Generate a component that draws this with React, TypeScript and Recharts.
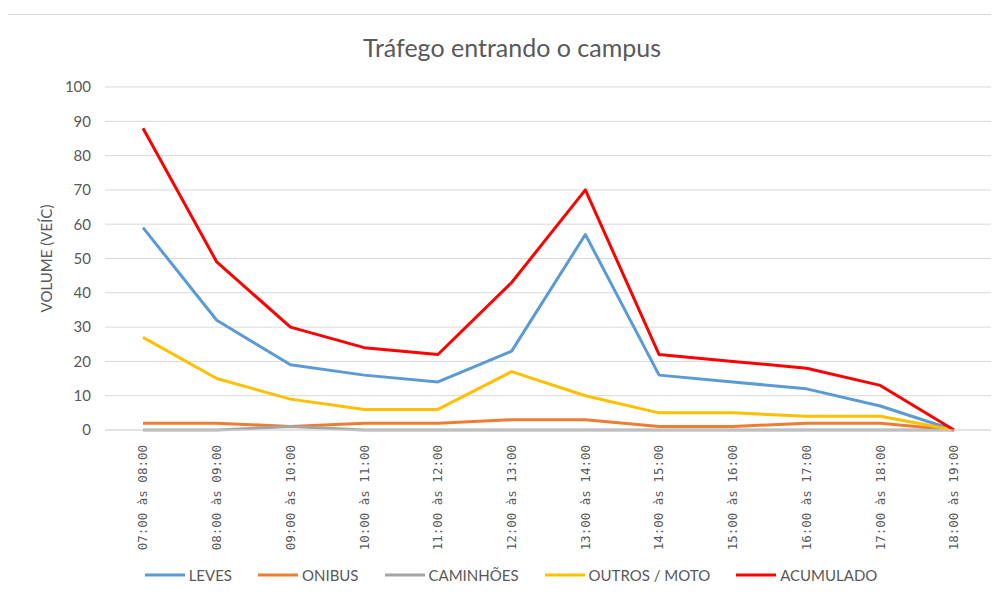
import { LineChart, Line, XAxis, YAxis, CartesianGrid, Legend } from "recharts";

const periods = [
  "07:00 às 08:00",
  "08:00 às 09:00",
  "09:00 às 10:00",
  "10:00 às 11:00",
  "11:00 às 12:00",
  "12:00 às 13:00",
  "13:00 às 14:00",
  "14:00 às 15:00",
  "15:00 às 16:00",
  "16:00 às 17:00",
  "17:00 às 18:00",
  "18:00 às 19:00",
];
const leves = [59, 32, 19, 16, 14, 23, 57, 16, 14, 12, 7, 0];
const onibus = [2, 2, 1, 2, 2, 3, 3, 1, 1, 2, 2, 0];
const caminhoes = [0, 0, 1, 0, 0, 0, 0, 0, 0, 0, 0, 0];
const outros = [27, 15, 9, 6, 6, 17, 10, 5, 5, 4, 4, 0];
const acumulado = [88, 49, 30, 24, 22, 43, 70, 22, 20, 18, 13, 0];
const yTicks = [0, 10, 20, 30, 40, 50, 60, 70, 80, 90, 100];

const data = periods.map((p, i) => ({
  periodo: p,
  leves: leves[i],
  onibus: onibus[i],
  caminhoes: caminhoes[i],
  outros: outros[i],
  acumulado: acumulado[i],
}));

const series = [
  { key: "leves", name: "LEVES", color: "#5B9BD5" },
  { key: "onibus", name: "ONIBUS", color: "#ED7D31" },
  { key: "caminhoes", name: "CAMINHÕES", color: "#A5A5A5" },
  { key: "outros", name: "OUTROS / MOTO", color: "#FFC000" },
  { key: "acumulado", name: "ACUMULADO", color: "#FF0000" },
];

const textColor = "#595959";
const font = "Lato, 'Open Sans', sans-serif";

// rotated category labels, reading bottom to top like Excel
const XTick = ({ x, y, payload }: any) => (
  <g transform={`translate(${x},${y})`}>
    <text
      transform="rotate(-90)"
      textAnchor="end"
      dy="0.35em"
      fill={textColor}
      fontSize={12.5}
      fontFamily="'DejaVu Sans Mono', monospace"
    >
      {payload.value}
    </text>
  </g>
);

// legend in series order (recharts would sort it by name)
const LegendContent = () => (
  <div
    style={{
      display: "flex",
      justifyContent: "center",
      alignItems: "center",
      height: 30,
      paddingLeft: 22,
      fontFamily: font,
      fontSize: 15,
      color: textColor,
    }}
  >
    {series.map((s) => (
      <div
        key={s.key}
        style={{ display: "flex", alignItems: "center", margin: "0 13px" }}
      >
        <svg width={40} height={6} style={{ marginRight: 4 }}>
          <line x1={0} y1={3} x2={40} y2={3} stroke={s.color} strokeWidth={3} />
        </svg>
        <span>{s.name}</span>
      </div>
    ))}
  </div>
);

export default function App() {
  return (
    <div style={{ position: "relative", width: 991, height: 589 }}>
      <div
        style={{
          position: "absolute",
          left: 0,
          top: 24,
          width: 1008,
          textAlign: "center",
          fontFamily: font,
          fontSize: 25,
          color: textColor,
        }}
      >
        Tráfego entrando o campus
      </div>
      <LineChart
        width={991}
        height={589}
        data={data}
        margin={{ top: 79, right: 7, left: 0, bottom: 7 }}
      >
        <CartesianGrid vertical={false} stroke="#D9D9D9" />
        <XAxis
          dataKey="periodo"
          axisLine={{ stroke: "#D9D9D9" }}
          tickLine={false}
          tickSize={6}
          tickMargin={9}
          interval={0}
          height={130}
          padding={{ left: 38, right: 38 }}
          tick={<XTick />}
        />
        <YAxis
          domain={[0, 100]}
          ticks={yTicks}
          axisLine={false}
          tickLine={false}
          tickSize={6}
          tickMargin={8}
          width={97}
          tick={{ fill: textColor, fontSize: 15, fontFamily: font }}
          label={{
            value: "VOLUME (VEÍC)",
            angle: -90,
            position: "insideLeft",
            offset: 39,
            style: {
              textAnchor: "middle",
              fill: textColor,
              fontSize: 15,
              fontFamily: font,
            },
          }}
        />
        <Legend verticalAlign="bottom" height={30} content={<LegendContent />} />
        {series.map((s) => (
          <Line
            key={s.key}
            type="linear"
            dataKey={s.key}
            name={s.name}
            stroke={s.color}
            strokeWidth={3}
            strokeLinejoin="round"
            dot={false}
            activeDot={false}
            isAnimationActive={false}
          />
        ))}
      </LineChart>
      <div
        style={{
          position: "absolute",
          left: -1,
          top: 6,
          width: 992,
          height: 583,
          boxSizing: "border-box",
          borderLeft: "1px solid #D9D9D9",
          borderTop: "1px solid #D9D9D9",
          pointerEvents: "none",
        }}
      />
    </div>
  );
}
